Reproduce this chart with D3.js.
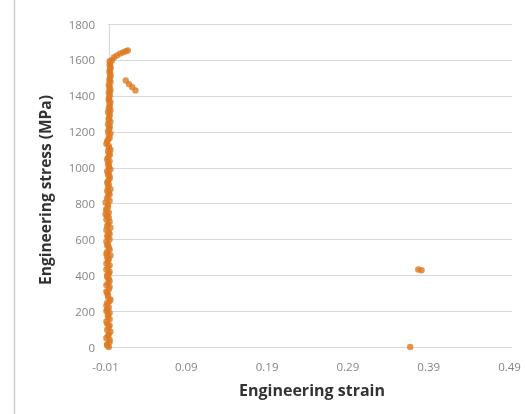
<!DOCTYPE html>
<html><head><meta charset="utf-8">
<script src="https://cdn.jsdelivr.net/npm/d3@7"></script>
<style>body{margin:0;background:#fff}svg{display:block}</style>
</head><body>
<svg id="c" width="526" height="414"></svg>
<script>
const xTicks = [-0.01, 0.09, 0.19, 0.29, 0.39, 0.49];
const yTicks = [0, 200, 400, 600, 800, 1000, 1200, 1400, 1600, 1800];
const xTitle = "Engineering strain";
const yTitle = "Engineering stress (MPa)";
// main loading column
const colStress = [0,15,40,60,85,110,130,155,180,200,220,245,265,290,310,335,355,380,400,420,445,465,490,510,530,555,575,600,620,640,665,685,710,730,750,770,795,815,840,860,880,905,925,950,970,990,1010,1035,1055,1080,1100,1120,1145,1165,1190,1210,1230,1255,1275,1300,1320,1340,1365,1385,1410,1430,1450,1475,1495,1520,1540,1560,1585,1600,1615,1625,1635,1642,1648,1652];
const colStrain = [-0.009,-0.011,-0.008,-0.010,-0.007,-0.009,-0.011,-0.008,-0.010,-0.012,-0.009,-0.011,-0.007,-0.010,-0.012,-0.008,-0.010,-0.009,-0.011,-0.008,-0.010,-0.012,-0.009,-0.007,-0.011,-0.009,-0.010,-0.008,-0.011,-0.009,-0.007,-0.010,-0.012,-0.011,-0.009,-0.012,-0.010,-0.008,-0.010,-0.009,-0.007,-0.009,-0.010,-0.008,-0.009,-0.007,-0.009,-0.008,-0.010,-0.008,-0.007,-0.009,-0.011,-0.008,-0.007,-0.009,-0.008,-0.007,-0.009,-0.008,-0.007,-0.008,-0.007,-0.009,-0.008,-0.007,-0.008,-0.007,-0.008,-0.007,-0.008,-0.007,-0.007,-0.005,-0.0025,0.001,0.005,0.0085,0.012,0.0145];
// second pass of readings in the same column
const col2Stress = [8,28,50,72,95,120,142,168,190,210,232,255,278,300,322,345,368,390,410,432,455,478,500,520,542,565,588,610,630,652,675,698,720,740,760,782,805,828,850,870,892,915,938,960,980,1000,1022,1045,1068,1090,1110,1132,1155,1178,1200,1220,1242,1265,1288,1310,1330,1352,1375,1398,1420,1440,1462,1485,1508,1530,1550,1572,1592];
const col2Strain = [-0.011,-0.008,-0.012,-0.009,-0.011,-0.008,-0.012,-0.010,-0.008,-0.011,-0.012,-0.008,-0.010,-0.011,-0.009,-0.012,-0.008,-0.011,-0.009,-0.012,-0.008,-0.010,-0.011,-0.012,-0.008,-0.011,-0.012,-0.010,-0.008,-0.012,-0.011,-0.008,-0.009,-0.013,-0.012,-0.010,-0.013,-0.011,-0.008,-0.011,-0.010,-0.011,-0.008,-0.010,-0.011,-0.009,-0.010,-0.011,-0.008,-0.010,-0.009,-0.012,-0.010,-0.009,-0.010,-0.008,-0.010,-0.009,-0.008,-0.010,-0.009,-0.008,-0.009,-0.008,-0.009,-0.008,-0.009,-0.008,-0.007,-0.008,-0.007,-0.008,-0.008];
// post-peak drop
const dropStrain = [0.012, 0.016, 0.020, 0.024];
const dropStress = [1485, 1465, 1448, 1430];
// fracture points
const endStrain = [0.364, 0.374, 0.378];
const endStress = [0, 432, 428];

const pts = [];
colStrain.forEach((s,i)=>pts.push([s,colStress[i]]));
col2Strain.forEach((s,i)=>pts.push([s,col2Stress[i]]));
dropStrain.forEach((s,i)=>pts.push([s,dropStress[i]]));
endStrain.forEach((s,i)=>pts.push([s,endStress[i]]));

const svg = d3.select("#c");
const m = {l:108, r:14, t:24, b:67};
const W = 526, H = 414;
const x = d3.scaleLinear().domain([-0.01, 0.49]).range([m.l, W-m.r]);
const y = d3.scaleLinear().domain([0, 1800]).range([H-m.b, m.t]);

const defs = svg.append("defs");
defs.append("filter").attr("id","blur").append("feGaussianBlur").attr("stdDeviation",0.7);
defs.append("filter").attr("id","tblur").append("feGaussianBlur").attr("stdDeviation",0.4);

// outer left border
svg.append("line").attr("x1",14.5).attr("x2",14.5).attr("y1",0).attr("y2",H).attr("stroke","#cfcfcf").attr("stroke-width",1.5);

// gridlines
svg.append("g").selectAll("line").data(yTicks).join("line")
  .attr("x1",m.l).attr("x2",W-m.r).attr("y1",d=>Math.round(y(d))+0.5).attr("y2",d=>Math.round(y(d))+0.5)
  .attr("stroke","#d9d9d9").attr("stroke-width",1.2);
svg.append("line").attr("x1",x(-0.01)+1.5).attr("x2",x(-0.01)+1.5).attr("y1",y(1800)).attr("y2",y(0))
  .attr("stroke","#d9d9d9").attr("stroke-width",1.2);

// axes via d3
const yAxis = svg.append("g").attr("transform",`translate(${m.l-13},0)`)
  .call(d3.axisLeft(y).tickValues(yTicks).tickSize(0).tickPadding(0).tickFormat(d3.format("d")));
const xAxis = svg.append("g").attr("transform",`translate(0,${H-m.b+12})`)
  .call(d3.axisBottom(x).tickValues(xTicks).tickSize(0).tickPadding(4).tickFormat(d=>d.toFixed(2)));
[yAxis,xAxis].forEach(a=>{
  a.select(".domain").remove();
  a.selectAll("text").attr("fill","#858585").style("font-family","'Open Sans',sans-serif").style("font-size","11.5px").attr("filter","url(#tblur)");
});
xAxis.selectAll("text").attr("dx",-3);
yAxis.selectAll("text").attr("dy","0.35em");

// titles
svg.append("text").attr("x",(m.l+W-m.r)/2+2).attr("y",396).attr("text-anchor","middle")
  .style("font-family","'Open Sans',sans-serif").style("font-weight","bold").style("font-size","16px")
  .attr("fill","#333").attr("filter","url(#tblur)").text(xTitle);
svg.append("text").attr("transform","translate(51,190) rotate(-90)").attr("text-anchor","middle")
  .style("font-family","'Open Sans',sans-serif").style("font-weight","bold").style("font-size","15.5px")
  .attr("fill","#333").attr("filter","url(#tblur)").text(yTitle);

// points
svg.append("g").attr("filter","url(#blur)").selectAll("circle").data(pts).join("circle")
  .attr("cx",d=>x(d[0])).attr("cy",d=>y(d[1])).attr("r",3.2)
  .attr("fill","#dd7b22").attr("fill-opacity",0.8);
</script>
</body></html>
